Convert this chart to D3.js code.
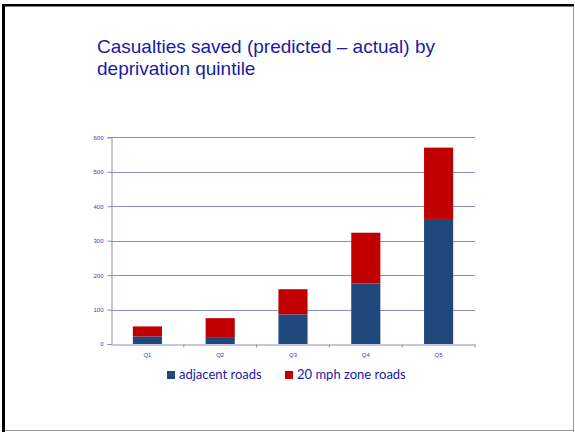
<!DOCTYPE html>
<html>
<head>
<meta charset="utf-8">
<script src="https://cdn.jsdelivr.net/npm/d3@7"></script>
<style>
  body { margin: 0; background: #fff; }
  svg { display: block; }
</style>
</head>
<body>
<div id="chart"></div>
<script>
// data
const quintiles = ['Q1', 'Q2', 'Q3', 'Q4', 'Q5'];
const adjacentRoads = [22, 20, 86, 176, 363];
const zoneRoads = [29, 55, 73, 147, 207];
const yTicks = [0, 100, 200, 300, 400, 500, 600];
const seriesNames = ['adjacent roads', '20 mph zone roads'];
const seriesColors = ['#1f497d', '#c00000'];

const width = 575, height = 432;

const svg = d3.select('#chart')
  .append('svg')
  .attr('width', width)
  .attr('height', height);

// slide frame: heavy black on top/left, thin grey on right/bottom
svg.append('rect')
  .attr('x', 2).attr('y', 4).attr('width', 3).attr('height', height - 4)
  .attr('fill', '#000');
svg.append('rect')
  .attr('x', 2).attr('y', 4).attr('width', 572).attr('height', 2.5)
  .attr('fill', '#000');
svg.append('line')
  .attr('x1', 573.5).attr('x2', 573.5).attr('y1', 6).attr('y2', 432)
  .attr('stroke', '#999').attr('stroke-width', 1);
svg.append('line')
  .attr('x1', 5).attr('x2', 574).attr('y1', 430.5).attr('y2', 430.5)
  .attr('stroke', '#999').attr('stroke-width', 1);

// title
const title = svg.append('text')
  .attr('x', 97)
  .attr('y', 52.5)
  .attr('fill', '#1a1aa6')
  .style('font-family', '"Liberation Sans", Arial, sans-serif')
  .style('font-size', '19px');
title.append('tspan').attr('x', 97).text('Casualties saved (predicted \u2013 actual) by');
title.append('tspan').attr('x', 97).attr('dy', 22).text('deprivation quintile');

const margin = { left: 111, right: 100, top: 137.3, bottom: 88 };

const x = d3.scaleBand()
  .domain(quintiles)
  .range([margin.left, width - margin.right])
  .paddingInner(0.6)
  .paddingOuter(0.3);

const y = d3.scaleLinear()
  .domain([0, 600])
  .range([height - margin.bottom, margin.top]);

const gridColor = '#8c8cc0';
const labelColor = '#3b3bb0';

// gridlines
svg.append('g')
  .selectAll('line')
  .data(yTicks.filter(d => d > 0))
  .enter()
  .append('line')
  .attr('x1', margin.left)
  .attr('x2', width - margin.right)
  .attr('y1', d => Math.round(y(d)) + 0.5)
  .attr('y2', d => Math.round(y(d)) + 0.5)
  .attr('stroke', gridColor)
  .attr('stroke-width', 1);

// stacked bars
const rows = quintiles.map((q, i) => ({ q: q, adjacent: adjacentRoads[i], zone: zoneRoads[i] }));
const stack = d3.stack().keys(['adjacent', 'zone'])(rows);

svg.append('g')
  .selectAll('g')
  .data(stack)
  .enter()
  .append('g')
  .attr('fill', (d, i) => seriesColors[i])
  .selectAll('rect')
  .data(d => d)
  .enter()
  .append('rect')
  .attr('x', d => x(d.data.q))
  .attr('width', x.bandwidth())
  .attr('y', d => y(d[1]))
  .attr('height', d => y(d[0]) - y(d[1]));

// y axis
const yAxis = svg.append('g')
  .attr('transform', `translate(${margin.left + 0.5},0)`)
  .call(d3.axisLeft(y).tickValues(yTicks).tickSize(4).tickPadding(4));

// x axis
const xAxis = svg.append('g')
  .attr('transform', `translate(0,${Math.round(y(0)) + 0.5})`)
  .call(d3.axisBottom(x).tickSize(0).tickPadding(8));

xAxis.selectAll('.tick').append('line')
  .attr('x1', x.step() / 2).attr('x2', x.step() / 2)
  .attr('y1', 0).attr('y2', 3)
  .attr('stroke', gridColor);

[yAxis, xAxis].forEach(g => {
  g.select('.domain').attr('stroke', gridColor);
  g.selectAll('.tick line').attr('stroke', gridColor);
  g.selectAll('text')
    .attr('fill', labelColor)
    .style('font-family', '"Liberation Sans", Arial, sans-serif')
    .style('font-size', '6px');
});

// legend
const legend = svg.append('g');
const legendX = [167, 285];
seriesNames.forEach((name, i) => {
  const item = legend.append('g').attr('transform', `translate(${legendX[i]},371)`);
  item.append('rect')
    .attr('width', 8).attr('height', 8)
    .attr('fill', seriesColors[i]);
  item.append('text')
    .attr('x', 12).attr('y', 7.5)
    .attr('fill', '#1a1aa6')
    .style('font-family', 'Lato, "Open Sans", sans-serif')
    .style('font-size', '13px')
    .text(name);
});
</script>
</body>
</html>
